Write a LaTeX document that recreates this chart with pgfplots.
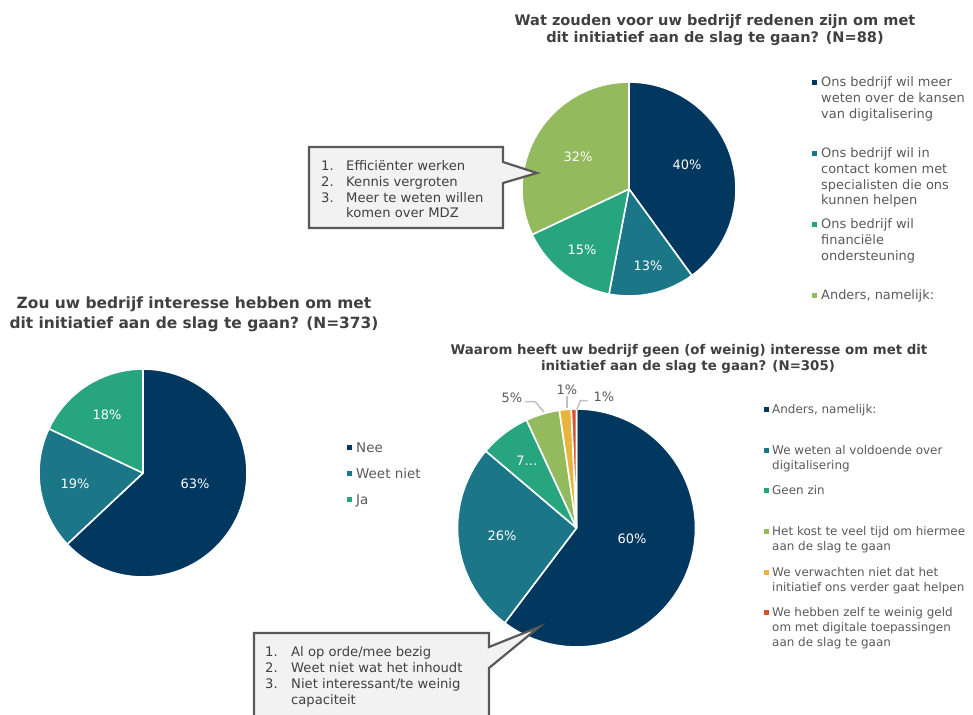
\documentclass[border=0pt]{standalone}
\usepackage{pgfplots}
\pgfplotsset{compat=1.18}
\usepackage{pgfplotstable}
\usepackage{fontspec}
\setmainfont{DejaVu Sans}

\definecolor{cNavy}{HTML}{02375F}
\definecolor{cTeal}{HTML}{1B7687}
\definecolor{cGreen}{HTML}{27A57F}
\definecolor{cLime}{HTML}{93BA5C}
\definecolor{cYellow}{HTML}{E8B43C}
\definecolor{cRed}{HTML}{D85130}
\definecolor{txt}{HTML}{404040}
\definecolor{ltxt}{HTML}{595959}
\definecolor{lead}{HTML}{BFBFBF}
\definecolor{boxfill}{HTML}{F2F2F2}
\definecolor{boxline}{HTML}{595959}

\tikzset{pielab/.style={font=\fontsize{13}{15}\selectfont, inner sep=0pt}}

% value, colour, label position (px), label, label colour
\pgfplotstableread{
value color lx ly lab lc
40 cNavy 687 165 40\% white
13 cTeal 648 266 13\% white
15 cGreen 582 250 15\% white
32 cLime 578 157 32\% white
}\pieA

\pgfplotstableread{
value color lx ly lab lc
63 cNavy 195 484 63\% white
19 cTeal 75 484 19\% white
18 cGreen 107 415 18\% white
}\pieB

\pgfplotstableread{
value color lx ly lab lc
60.3 cNavy 632 539 60\% white
25.9 cTeal 502 536 26\% white
6.9 cGreen 527 461 7… white
4.6 cLime 512 398 5\% ltxt
1.6 cYellow 567 390 1\% ltxt
0.7 cRed 604 397 1\% ltxt
}\pieC

\newcommand\drawpie[4]{% table, cx, cy, r
  \pgfplotstablegetrowsof{#1}%
  \pgfmathtruncatemacro\nlast{\pgfplotsretval-1}%
  \def\angA{90}%
  \pgfplotsforeachungrouped \i in {0,...,\nlast}{%
    \pgfplotstablegetelem{\i}{value}\of{#1}\let\val\pgfplotsretval
    \pgfplotstablegetelem{\i}{color}\of{#1}\let\col\pgfplotsretval
    \pgfmathsetmacro\angB{\angA-3.6*\val}%
    \edef\cmd{\noexpand\fill[\col,draw=white,line width=1.6bp,line join=round]
      (axis cs:#2,#3) -- ++(\angA:#4bp) arc[start angle=\angA,end angle=\angB,radius=#4bp] -- cycle;}%
    \cmd
    \let\angA\angB
  }%
  \pgfplotsforeachungrouped \i in {0,...,\nlast}{%
    \pgfplotstablegetelem{\i}{lx}\of{#1}\let\lx\pgfplotsretval
    \pgfplotstablegetelem{\i}{ly}\of{#1}\let\ly\pgfplotsretval
    \pgfplotstablegetelem{\i}{lab}\of{#1}\let\lab\pgfplotsretval
    \pgfplotstablegetelem{\i}{lc}\of{#1}\let\lc\pgfplotsretval
    \edef\cmd{\noexpand\node[pielab,text=\lc] at (axis cs:\lx,\ly) {\unexpanded\expandafter{\lab}};}%
    \cmd
  }%
}

% text line: x, y (baseline), text
\newcommand\tl[4][]{\node[anchor=base west,inner sep=0pt,text=ltxt,#1] at (axis cs:#2,#3) {#4};}
\newcommand\mk[3]{\node[fill=#3,inner sep=0pt,minimum size=5bp] at (axis cs:#1,#2) {};}

\begin{document}
\begin{tikzpicture}
\begin{axis}[
  x=1bp, y=1bp, xmin=0, xmax=973, ymin=0, ymax=715, y dir=reverse,
  scale only axis, hide axis, clip=false,
  at={(0,0)}, anchor=south west,
]
% ---------- Titles ----------
\node[font=\fontsize{14.6}{16}\selectfont\bfseries,text=txt,anchor=base,inner sep=0pt] at (axis cs:715,25) {Wat zouden voor uw bedrijf redenen zijn om met};
\node[font=\fontsize{14.6}{16}\selectfont\bfseries,text=txt,anchor=base,inner sep=0pt] at (axis cs:715,42) {dit initiatief aan de slag te gaan? (N=88)};
\node[font=\fontsize{15.5}{17}\selectfont\bfseries,text=txt,anchor=base,inner sep=0pt] at (axis cs:194,308.5) {Zou uw bedrijf interesse hebben om met};
\node[font=\fontsize{15.5}{17}\selectfont\bfseries,text=txt,anchor=base,inner sep=0pt] at (axis cs:194,328.5) {dit initiatief aan de slag te gaan? (N=373)};
\node[font=\fontsize{13.4}{15}\selectfont\bfseries,text=txt,anchor=base,inner sep=0pt] at (axis cs:689,354) {Waarom heeft uw bedrijf geen (of weinig) interesse om met dit};
\node[font=\fontsize{13.4}{15}\selectfont\bfseries,text=txt,anchor=base,inner sep=0pt] at (axis cs:688,370.5) {initiatief aan de slag te gaan? (N=305)};

% ---------- Pies ----------
\drawpie{\pieA}{629}{189}{107}
\drawpie{\pieB}{143}{473}{104}
\drawpie{\pieC}{576.5}{528}{119}

% leader lines pie 3
\draw[lead,line width=1.5bp] (axis cs:525,401.5) -- (axis cs:535,401.5) -- (axis cs:544,412);
\draw[lead,line width=1.5bp] (axis cs:567,396) -- (axis cs:567,408);
\draw[lead,line width=1.5bp] (axis cs:587.5,400.5) -- (axis cs:580.5,400.5) -- (axis cs:576.8,409.5);

% ---------- Legend 1 ----------
\mk{814}{82}{cNavy}
\mk{814}{153}{cTeal}
\mk{814}{224}{cGreen}
\mk{814}{295}{cLime}
\tl[font=\fontsize{13}{15}\selectfont]{821}{86.5}{Ons bedrijf wil meer}
\tl[font=\fontsize{13}{15}\selectfont]{821}{102.5}{weten over de kansen}
\tl[font=\fontsize{13}{15}\selectfont]{821}{118.5}{van digitalisering}
\tl[font=\fontsize{13}{15}\selectfont]{821}{157.5}{Ons bedrijf wil in}
\tl[font=\fontsize{13}{15}\selectfont]{821}{173.5}{contact komen met}
\tl[font=\fontsize{13}{15}\selectfont]{821}{189.5}{specialisten die ons}
\tl[font=\fontsize{13}{15}\selectfont]{821}{204.5}{kunnen helpen}
\tl[font=\fontsize{13}{15}\selectfont]{821}{228.5}{Ons bedrijf wil}
\tl[font=\fontsize{13}{15}\selectfont]{821}{244.5}{financiële}
\tl[font=\fontsize{13}{15}\selectfont]{821}{260.5}{ondersteuning}
\tl[font=\fontsize{13}{15}\selectfont]{821}{299.5}{Anders, namelijk:}

% ---------- Legend 2 ----------
\mk{349.5}{447}{cNavy}
\mk{349.5}{473}{cTeal}
\mk{349.5}{499}{cGreen}
\tl[font=\fontsize{13.5}{15}\selectfont]{356}{452}{Nee}
\tl[font=\fontsize{13.5}{15}\selectfont]{356}{478}{Weet niet}
\tl[font=\fontsize{13.5}{15}\selectfont]{356}{504}{Ja}

% ---------- Legend 3 ----------
\mk{766}{409}{cNavy}
\mk{766}{450}{cTeal}
\mk{766}{490}{cGreen}
\mk{766}{531}{cLime}
\mk{766}{572}{cYellow}
\mk{766}{612}{cRed}
\tl[font=\fontsize{12}{14}\selectfont]{772}{413}{Anders, namelijk:}
\tl[font=\fontsize{12}{14}\selectfont]{772}{454}{We weten al voldoende over}
\tl[font=\fontsize{12}{14}\selectfont]{772}{469}{digitalisering}
\tl[font=\fontsize{12}{14}\selectfont]{772}{494}{Geen zin}
\tl[font=\fontsize{12}{14}\selectfont]{772}{535}{Het kost te veel tijd om hiermee}
\tl[font=\fontsize{12}{14}\selectfont]{772}{550}{aan de slag te gaan}
\tl[font=\fontsize{12}{14}\selectfont]{772}{576}{We verwachten niet dat het}
\tl[font=\fontsize{12}{14}\selectfont]{772}{591}{initiatief ons verder gaat helpen}
\tl[font=\fontsize{12}{14}\selectfont]{772}{616}{We hebben zelf te weinig geld}
\tl[font=\fontsize{12}{14}\selectfont]{772}{631}{om met digitale toepassingen}
\tl[font=\fontsize{12}{14}\selectfont]{772}{646}{aan de slag te gaan}

% ---------- Callout 1 ----------
\fill[boxfill] (axis cs:309,147) -- (axis cs:503,147) -- (axis cs:503,162) -- (axis cs:537,173) -- (axis cs:503,183) -- (axis cs:503,228) -- (axis cs:309,228) -- cycle;
\draw[boxline,line width=2.2bp,line join=miter] (axis cs:309,147) -- (axis cs:503,147) -- (axis cs:503,162) -- (axis cs:537,173) -- (axis cs:503,183) -- (axis cs:503,228) -- (axis cs:309,228) -- cycle;
\tl[font=\fontsize{13.2}{15}\selectfont,text=txt]{321}{170.5}{1.}
\tl[font=\fontsize{13.2}{15}\selectfont,text=txt]{346}{170.5}{Efficiënter werken}
\tl[font=\fontsize{13.2}{15}\selectfont,text=txt]{321}{186.5}{2.}
\tl[font=\fontsize{13.2}{15}\selectfont,text=txt]{346}{186.5}{Kennis vergroten}
\tl[font=\fontsize{13.2}{15}\selectfont,text=txt]{321}{202.5}{3.}
\tl[font=\fontsize{13.2}{15}\selectfont,text=txt]{346}{202.5}{Meer te weten willen}
\tl[font=\fontsize{13.2}{15}\selectfont,text=txt]{346}{217.5}{komen over MDZ}

% ---------- Callout 2 ----------
\fill[boxfill] (axis cs:254,715) -- (axis cs:254,633) -- (axis cs:489,633) -- (axis cs:489,647) -- (axis cs:539,627) -- (axis cs:489,668) -- (axis cs:489,715) -- cycle;
\draw[boxline,line width=2.2bp,line join=miter] (axis cs:254,715) -- (axis cs:254,633) -- (axis cs:489,633) -- (axis cs:489,647) -- (axis cs:539,627) -- (axis cs:489,668) -- (axis cs:489,715);
\tl[font=\fontsize{13.2}{15}\selectfont,text=txt]{265}{656.5}{1.}
\tl[font=\fontsize{13.2}{15}\selectfont,text=txt]{291}{656.5}{Al op orde/mee bezig}
\tl[font=\fontsize{13.2}{15}\selectfont,text=txt]{265}{672.5}{2.}
\tl[font=\fontsize{13.2}{15}\selectfont,text=txt]{291}{672.5}{Weet niet wat het inhoudt}
\tl[font=\fontsize{13.2}{15}\selectfont,text=txt]{265}{688.5}{3.}
\tl[font=\fontsize{13.2}{15}\selectfont,text=txt]{291}{688.5}{Niet interessant/te weinig}
\tl[font=\fontsize{13.2}{15}\selectfont,text=txt]{291}{704.5}{capaciteit}
\end{axis}
\pgfresetboundingbox
\path (0,0) rectangle (973bp,715bp);
\end{tikzpicture}
\end{document}
